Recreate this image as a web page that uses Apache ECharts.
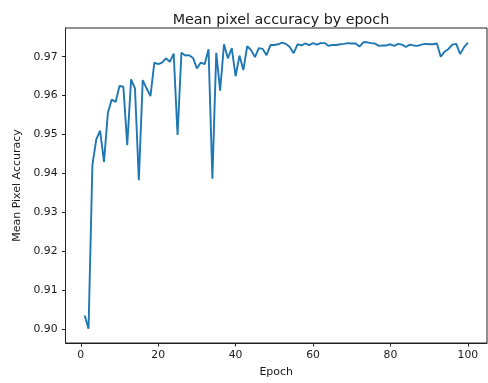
<!DOCTYPE html>
<html>
<head>
<meta charset="utf-8">
<script src="https://cdn.jsdelivr.net/npm/echarts@6/dist/echarts.min.js"></script>
<style>
  html, body { margin: 0; padding: 0; background: #fff; }
  #chart { width: 488px; height: 383px; }
</style>
</head>
<body>
<div id="chart"></div>
<script>
// Training epochs and the mean pixel accuracy recorded at each one
const epochs = Array.from({ length: 100 }, (_, i) => i + 1);
const meanPixelAccuracy = [
  0.9036, 0.9002, 0.9422, 0.9488, 0.9510, 0.9430, 0.9556, 0.9590, 0.9584, 0.9625,
  0.9623, 0.9473, 0.9642, 0.9619, 0.9383, 0.9640, 0.9619, 0.9599, 0.9685, 0.9681,
  0.9685, 0.9696, 0.9687, 0.9708, 0.9499, 0.9710, 0.9703, 0.9704, 0.9697, 0.9670,
  0.9685, 0.9681, 0.9719, 0.9387, 0.9710, 0.9613, 0.9732, 0.9696, 0.9722, 0.9650,
  0.9703, 0.9666, 0.9727, 0.9717, 0.9699, 0.9722, 0.9720, 0.9704, 0.9730, 0.9730,
  0.9732, 0.9736, 0.9733, 0.9725, 0.9709, 0.9732, 0.9729, 0.9734, 0.9730, 0.9735,
  0.9731, 0.9735, 0.9735, 0.9728, 0.9730, 0.9730, 0.9732, 0.9733, 0.9735, 0.9734,
  0.9734, 0.9726, 0.9737, 0.9737, 0.9735, 0.9734, 0.9728, 0.9729, 0.9729, 0.9732,
  0.9728, 0.9733, 0.9731, 0.9725, 0.9731, 0.9729, 0.9728, 0.9731, 0.9733, 0.9732,
  0.9732, 0.9734, 0.9700, 0.9713, 0.9720, 0.9731, 0.9733, 0.9707, 0.9724, 0.9736
];
const xTicks = [0, 20, 40, 60, 80, 100];
const yTicks = [0.90, 0.91, 0.92, 0.93, 0.94, 0.95, 0.96, 0.97];

// 5% padding around the data range on both axes
const xPad = (epochs[epochs.length - 1] - epochs[0]) * 0.05;
const yLo = Math.min(...meanPixelAccuracy), yHi = Math.max(...meanPixelAccuracy);
const yPad = (yHi - yLo) * 0.05;

const font = 'DejaVu Sans';
const ink = '#1a1a1a';
const chart = echarts.init(document.getElementById('chart'), null, { renderer: 'canvas' });
chart.setOption({
  animation: false,
  backgroundColor: '#ffffff',
  title: {
    text: 'Mean pixel accuracy by epoch',
    left: 276, top: 8, textAlign: 'center',
    textStyle: { fontFamily: font, fontSize: 14.3, fontWeight: 'normal', color: ink }
  },
  grid: {
    left: 65.5, right: 1, top: 28, bottom: 40,
    show: true, borderColor: '#222', borderWidth: 1, backgroundColor: 'transparent'
  },
  xAxis: {
    type: 'value',
    min: epochs[0] - xPad, max: epochs[epochs.length - 1] + xPad,
    name: 'Epoch', nameLocation: 'middle', nameGap: 24,
    nameTextStyle: { fontFamily: font, fontSize: 11, color: ink },
    axisLine: { show: true, onZero: false, lineStyle: { color: '#222', width: 1 } },
    axisTick: { show: true, inside: false, length: 3.5, customValues: xTicks, lineStyle: { color: '#222' } },
    axisLabel: { customValues: xTicks, margin: 7, fontFamily: font, fontSize: 10.8, color: ink },
    splitLine: { show: false }
  },
  yAxis: {
    type: 'value',
    min: yLo - yPad, max: yHi + yPad,
    name: 'Mean Pixel Accuracy', nameLocation: 'middle', nameGap: 40,
    nameTextStyle: { fontFamily: font, fontSize: 11, color: ink },
    axisLine: { show: true, onZero: false, lineStyle: { color: '#222', width: 1 } },
    axisTick: { show: true, inside: false, length: 3.5, customValues: yTicks, lineStyle: { color: '#222' } },
    axisLabel: {
      customValues: yTicks, margin: 8, fontFamily: font, fontSize: 10.8, color: ink,
      formatter: v => v.toFixed(2)
    },
    splitLine: { show: false }
  },
  series: [{
    type: 'line',
    data: epochs.map((e, i) => [e, meanPixelAccuracy[i]]),
    showSymbol: false,
    lineStyle: { color: '#1f77b4', width: 1.9 },
    itemStyle: { color: '#1f77b4' }
  }]
});
</script>
</body>
</html>
